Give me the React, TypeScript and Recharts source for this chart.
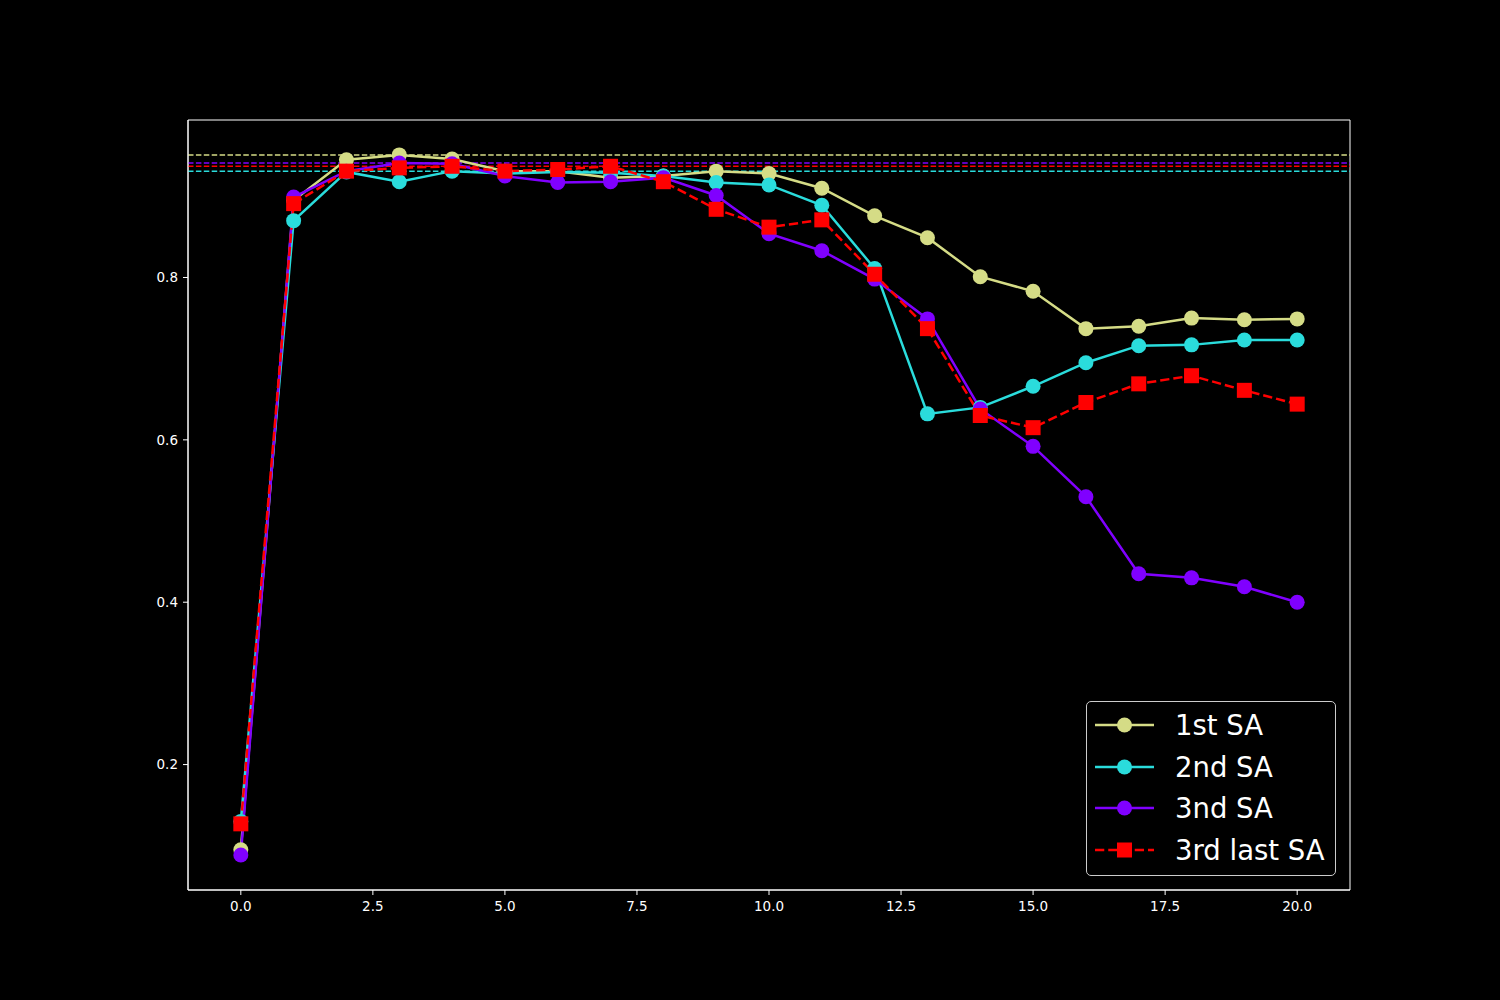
import React from "react";
import {
  LineChart,
  Line,
  XAxis,
  YAxis,
  ReferenceLine,
  ReferenceArea,
  Legend,
} from "recharts";

const epochs = [0, 1, 2, 3, 4, 5, 6, 7, 8, 9, 10, 11, 12, 13, 14, 15, 16, 17, 18, 19, 20];
const firstSA = [0.095, 0.895, 0.945, 0.951, 0.946, 0.931, 0.931, 0.923, 0.925, 0.931, 0.928, 0.910, 0.876, 0.849, 0.801, 0.783, 0.737, 0.740, 0.750, 0.748, 0.749];
const secondSA = [0.130, 0.870, 0.930, 0.918, 0.931, 0.928, 0.930, 0.929, 0.925, 0.917, 0.914, 0.889, 0.811, 0.632, 0.640, 0.666, 0.695, 0.716, 0.717, 0.723, 0.723];
const thirdSA = [0.0886, 0.899, 0.931, 0.941, 0.940, 0.925, 0.917, 0.918, 0.923, 0.901, 0.854, 0.833, 0.798, 0.749, 0.638, 0.592, 0.530, 0.435, 0.430, 0.419, 0.400];
const thirdLastSA = [0.127, 0.891, 0.931, 0.935, 0.937, 0.931, 0.933, 0.937, 0.918, 0.884, 0.862, 0.871, 0.804, 0.737, 0.630, 0.615, 0.646, 0.669, 0.679, 0.661, 0.644];

const xTicks = [0, 2.5, 5, 7.5, 10, 12.5, 15, 17.5, 20];
const yTicks = [0.2, 0.4, 0.6, 0.8];

const seriesNames = ["1st SA", "2nd SA", "3nd SA", "3rd last SA"];
const seriesColors = ["#d5dc86", "#2adcdc", "#8000ff", "#ff0000"];
const seriesValues = [firstSA, secondSA, thirdSA, thirdLastSA];

const data = epochs.map((e, i) => ({
  epoch: e,
  s0: firstSA[i],
  s1: secondSA[i],
  s2: thirdSA[i],
  s3: thirdLastSA[i],
}));

const X_DOMAIN: [number, number] = [-1, 21];
const Y_DOMAIN: [number, number] = [0.0455, 0.994];

const FONT = "'DejaVu Sans', sans-serif";

const CircleDot = (color: string) => (props: any) => {
  const { cx, cy, index } = props;
  if (cx == null || cy == null) return <g key={index} />;
  return <circle key={index} cx={cx} cy={cy} r={7.5} fill={color} stroke="none" />;
};

const SquareDot = (color: string) => (props: any) => {
  const { cx, cy, index } = props;
  if (cx == null || cy == null) return <g key={index} />;
  return <rect key={index} x={cx - 7.5} y={cy - 7.5} width={15} height={15} fill={color} stroke="none" />;
};

const renderLegend = () => {
  return (
    <div
      style={{
        width: 250,
        height: 175,
        boxSizing: "border-box",
        border: "1px solid #cccccc",
        borderRadius: 5,
        background: "#000",
        paddingTop: 2,
        fontFamily: FONT,
      }}
    >
      {seriesNames.map((name, i) => (
        <div
          key={name}
          style={{ display: "flex", alignItems: "center", height: 41.7 }}
        >
          <svg width={59} height={20} style={{ marginLeft: 8, display: "block" }}>
            <line
              x1={0}
              y1={10}
              x2={59}
              y2={10}
              stroke={seriesColors[i]}
              strokeWidth={2.5}
              strokeDasharray={i === 3 ? "9.25 4" : undefined}
            />
            {i === 3 ? (
              <rect x={22} y={2.5} width={15} height={15} fill={seriesColors[i]} />
            ) : (
              <circle cx={29.5} cy={10} r={7.5} fill={seriesColors[i]} />
            )}
          </svg>
          <span style={{ marginLeft: 21, color: "#fff", fontSize: 27.5, lineHeight: "28px" }}>{name}</span>
        </div>
      ))}
    </div>
  );
};

export default function App() {
  const maxes = seriesValues.map((v) => Math.max(...v));
  return (
    <div
      style={{
        position: "absolute",
        left: 0,
        top: 0,
        width: 1500,
        height: 1000,
        background: "#000",
      }}
    >
      <LineChart
        width={1500}
        height={1000}
        data={data}
        margin={{ top: 120, right: 150, left: 128, bottom: 80 }}
        style={{ background: "#000" }}
      >
        <XAxis
          dataKey="epoch"
          type="number"
          domain={X_DOMAIN}
          ticks={xTicks}
          tickFormatter={(v: number) => v.toFixed(1)}
          allowDataOverflow
          height={30}
          tickSize={5}
          tickMargin={6}
          stroke="#ffffff"
          axisLine={{ stroke: "#ffffff", strokeWidth: 1 }}
          tickLine={{ stroke: "#ffffff" }}
          tick={{ fill: "#ffffff", fontSize: 13.5, fontFamily: FONT }}
          interval={0}
        />
        <YAxis
          type="number"
          domain={Y_DOMAIN}
          ticks={yTicks}
          tickFormatter={(v: number) => v.toFixed(1)}
          allowDataOverflow
          width={60}
          tickSize={5}
          tickMargin={5}
          stroke="#ffffff"
          axisLine={{ stroke: "#ffffff", strokeWidth: 1 }}
          tickLine={{ stroke: "#ffffff" }}
          tick={{ fill: "#ffffff", fontSize: 13.5, fontFamily: FONT }}
          interval={0}
        />
        <ReferenceArea
          x1={X_DOMAIN[0]}
          x2={X_DOMAIN[1]}
          y1={Y_DOMAIN[0]}
          y2={Y_DOMAIN[1]}
          fill="none"
          stroke="#ffffff"
          strokeWidth={1}
          fillOpacity={0}
        />
        {maxes.map((m, i) => (
          <ReferenceLine
            key={"ref" + i}
            y={m}
            stroke={seriesColors[i]}
            strokeWidth={1.5}
            strokeDasharray="5.5 2.4"
          />
        ))}
        {seriesNames.map((name, i) => (
          <Line
            key={name}
            name={name}
            dataKey={"s" + i}
            type="linear"
            stroke={seriesColors[i]}
            strokeWidth={2.5}
            strokeDasharray={i === 3 ? "9.25 4" : undefined}
            dot={i === 3 ? SquareDot(seriesColors[i]) : CircleDot(seriesColors[i])}
            activeDot={false}
            isAnimationActive={false}
          />
        ))}
        <Legend
          layout="horizontal"
          verticalAlign="middle"
          align="center"
          content={renderLegend}
          wrapperStyle={{ position: "absolute", left: 1086, top: 701, width: 250, height: 175 }}
        />
      </LineChart>
    </div>
  );
}
